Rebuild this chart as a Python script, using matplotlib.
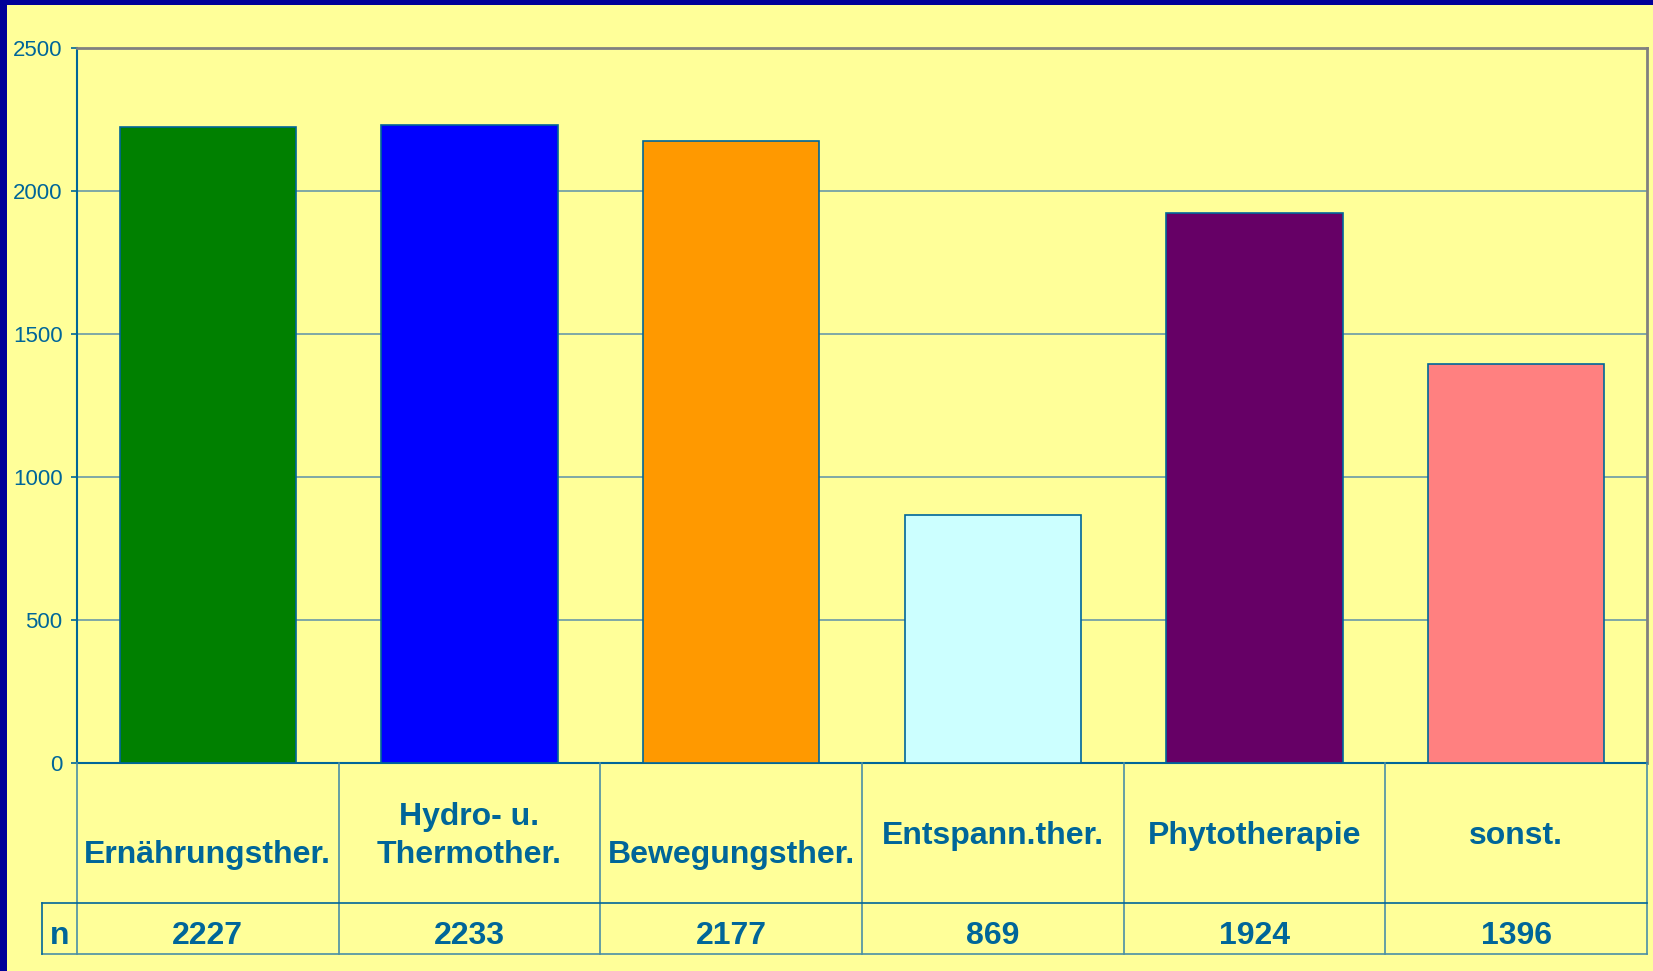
import matplotlib.pyplot as plt
from matplotlib.patches import Rectangle

categories = ["\nErnährungsther.", "Hydro- u.\nThermother.", "\nBewegungsther.",
              "Entspann.ther.", "Phytotherapie", "sonst."]
counts = [2227, 2233, 2177, 869, 1924, 1396]
bar_colors = ["#008000", "#0000FF", "#FF9900", "#CCFFFF", "#660066", "#FF8080"]
y_ticks = [0, 500, 1000, 1500, 2000, 2500]

W, H = 1653, 971
BG = "#FFFF99"
TEXT = "#006699"
LINE = "#4A8FA6"

def fx(px):
    return px / W

def fy(py):
    return 1 - py / H

fig = plt.figure(figsize = (W / 100, H / 100), dpi = 100)
fig.patch.set_facecolor(BG)
plt.rcParams['font.family'] = ['Liberation Sans', 'DejaVu Sans']

# dark blue frame top and left
fig.patches.append(Rectangle((0, fy(5)), 1, 1 - fy(5), transform = fig.transFigure,
                             facecolor = "#000099", edgecolor = "none", zorder = 0))
fig.patches.append(Rectangle((0, 0), fx(7), 1, transform = fig.transFigure,
                             facecolor = "#000099", edgecolor = "none", zorder = 0))

left, right = 77, 1647
top, zero, row_split, bottom = 48.5, 763, 903, 954

ax = fig.add_axes([fx(left), fy(zero), fx(right - left), fy(top) - fy(zero)])
ax.set_facecolor(BG)
x = list(range(len(counts)))
ax.bar(x, counts, width = 0.675, color = bar_colors, edgecolor = TEXT,
       linewidth = 1.2, zorder = 3)
ax.set_xlim(-0.5, len(counts) - 0.5)
ax.set_ylim(0, 2500)
ax.set_yticks(y_ticks)
ax.set_yticklabels([str(t) for t in y_ticks], fontsize = 16, color = TEXT)
ax.set_xticks([])
ax.yaxis.grid(True, color = "#6A9AA8", linewidth = 1.2, zorder = 0)
ax.tick_params(axis = "y", length = 4.5, width = 1.2, color = TEXT, pad = 6)
for side in ["top", "right"]:
    ax.spines[side].set_color("#808080")
    ax.spines[side].set_linewidth(2)
for side in ["left", "bottom"]:
    ax.spines[side].set_color(TEXT)
    ax.spines[side].set_linewidth(1.5)

# data table below the bars
tab = fig.add_axes([fx(left), fy(bottom), fx(right - left), fy(zero) - fy(bottom)])
tab.set_xlim(-0.5, len(counts) - 0.5)
tab.set_ylim(bottom - zero, 0)
tab.axis("off")
col_w = (right - left) / len(counts)
n_left = -0.5 - (left - 42) / col_w
split = row_split - zero
base = bottom - zero
for i in range(len(counts) + 1):
    tab.plot([i - 0.5, i - 0.5], [0, base], color = LINE, linewidth = 1.2, clip_on = False)
tab.plot([n_left, len(counts) - 0.5], [split, split], color = TEXT, linewidth = 1.2, clip_on = False)
tab.plot([n_left, len(counts) - 0.5], [base, base], color = LINE, linewidth = 1.2, clip_on = False)
tab.plot([n_left, n_left], [split, base], color = TEXT, linewidth = 1.2, clip_on = False)

for i, (label, n) in enumerate(zip(categories, counts)):
    tab.text(i, split / 2 + 3, label, ha = "center", va = "center", fontsize = 23,
             fontweight = "bold", color = TEXT, linespacing = 1.33)
    tab.text(i, (split + base) / 2 + 7, str(n), ha = "center", va = "center",
             fontsize = 23, fontweight = "bold", color = TEXT)
tab.text((n_left - 0.5) / 2, (split + base) / 2 + 7, "n", ha = "center", va = "center",
         fontsize = 23, fontweight = "bold", color = TEXT, clip_on = False)

fig.savefig("out.png", dpi = 100, facecolor = fig.get_facecolor())
